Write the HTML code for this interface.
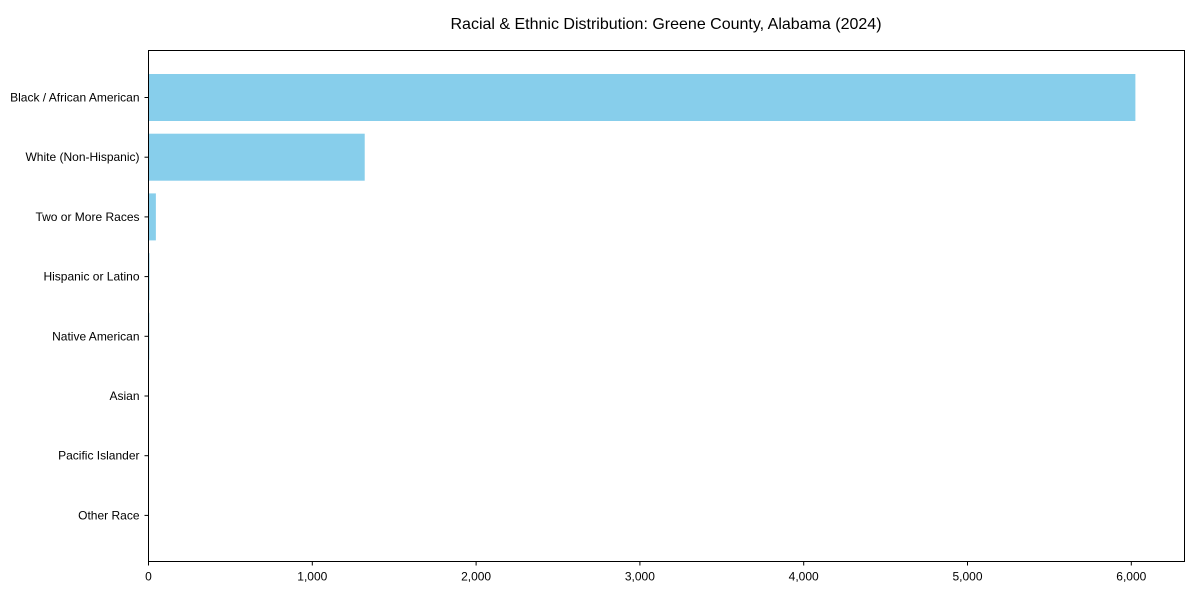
<!DOCTYPE html>
<html><head><meta charset="utf-8"><style>
body{margin:0;background:#fff;font-family:"Liberation Sans",Arial,sans-serif}
svg text{font-family:"Liberation Sans",Arial,sans-serif;fill:#000}
</style></head><body>
<svg id="chart" width="1200" height="600">
<text x="666" y="29" font-size="16" text-anchor="middle">Racial &amp; Ethnic Distribution: Greene County, Alabama (2024)</text>
<g id="bars"></g><g id="axes"></g>
<rect x="148.5" y="50.5" width="1036" height="511" fill="none" stroke="#000" stroke-width="1"/>
</svg>
<script>
const categories=["Black / African American","White (Non-Hispanic)","Two or More Races","Hispanic or Latino","Native American","Asian","Pacific Islander","Other Race"];
const values=[6025,1320,45,6,5,0,0,0];
const ticks=[0,1000,2000,3000,4000,5000,6000];
const tickLabels=["0","1,000","2,000","3,000","4,000","5,000","6,000"];
const ns="http://www.w3.org/2000/svg";
const L=148.5,T=50.5,B=561.5;
function xs(v){return L+v*0.1638;}
const step=59.7,y0=97.5;
function ys(i){return y0+i*step;}
const bg=document.getElementById('bars'),ag=document.getElementById('axes');
function mk(t,a,p){const e=document.createElementNS(ns,t);for(const k in a)e.setAttribute(k,a[k]);p.appendChild(e);return e;}
categories.forEach((c,i)=>{
 const r=mk('rect',{x:xs(0),y:ys(i)-23.5,width:Math.max(0,xs(values[i])-xs(0)),height:47,fill:'#87ceeb'},bg);
 
 
 mk('line',{x1:L-4,x2:L,y1:ys(i),y2:ys(i),stroke:'#000'},ag);
 const t=mk('text',{x:L-9,y:ys(i)+4,'font-size':12,'text-anchor':'end'},ag);t.textContent=c;
 
 
});
ticks.forEach((v,i)=>{
 mk('line',{x1:xs(v),x2:xs(v),y1:B,y2:B+4,stroke:'#000'},ag);
 const t=mk('text',{x:xs(v),y:B+19,'font-size':12,'text-anchor':'middle'},ag);t.textContent=tickLabels[i];
 
 
});
</script>
</body></html>
